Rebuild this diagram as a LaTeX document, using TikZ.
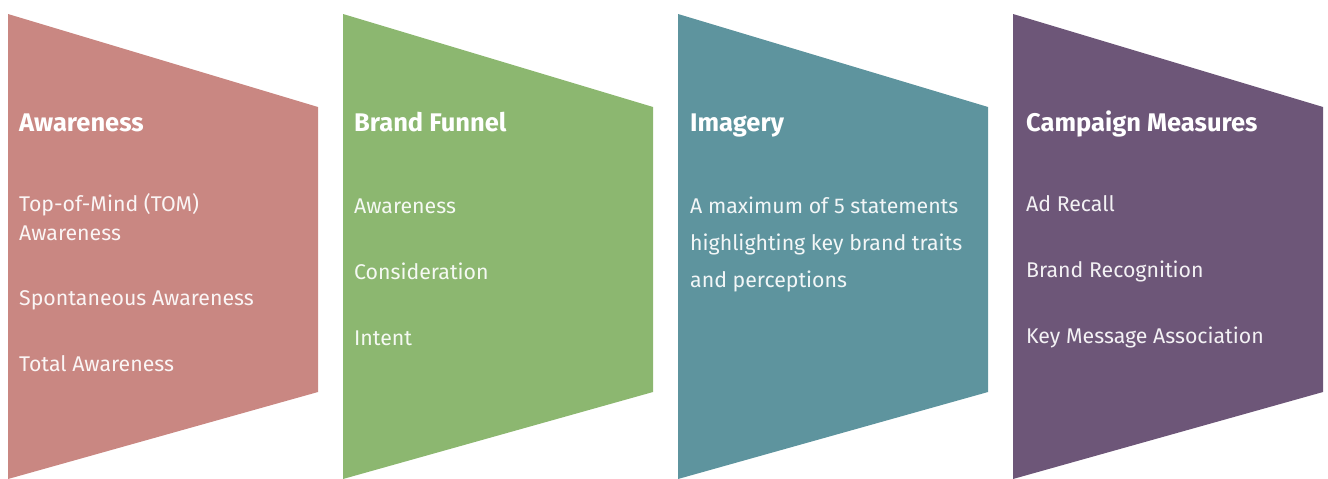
\documentclass[tikz,border=0pt]{standalone}
\usepackage{fontspec}
\setmainfont{Fira Sans}
\definecolor{cRed}{RGB}{201,135,130}
\definecolor{cGreen}{RGB}{140,183,112}
\definecolor{cTeal}{RGB}{94,148,158}
\definecolor{cPurple}{RGB}{109,86,120}
\tikzset{
  panel/.style={fill=#1, draw=none},
  head/.style={anchor=base west, inner sep=0pt, text=white, font=\fontsize{25.5}{30}\selectfont\bfseries},
  item/.style={anchor=base west, inner sep=0pt, text=white, text opacity=0.92, font=\fontsize{21.3}{26}\selectfont},
}
\begin{document}
\begin{tikzpicture}[x=1pt,y=-1pt]
\useasboundingbox (0,0) rectangle (1328,479);
% the four tapered panels
\foreach \L/\c/\n in {8/cRed/pA,343/cGreen/pB,678/cTeal/pC,1013/cPurple/pD}{
  \fill[panel=\c] (\L,14) -- (\L+310,107) -- (\L+310,392) -- (\L,479) -- cycle;
}
% Awareness
\node[head] (h1) at (19,131) {Awareness};
\node[item] (a1) at (19,211) {Top-of-Mind (TOM)};
\node[item] (a2) at (19,240) {Awareness};
\node[item] (a3) at (19,305) {Spontaneous Awareness};
\node[item] (a4) at (19,371) {Total Awareness};
% Brand Funnel
\node[head] (h2) at (354,131) {Brand Funnel};
\node[item] (b1) at (354,213) {Awareness};
\node[item] (b2) at (354,279) {Consideration};
\node[item] (b3) at (354,345) {Intent};
% Imagery
\node[head] (h3) at (690,131) {Imagery};
\node[item] (c1) at (690,213) {A maximum of 5 statements};
\node[item] (c2) at (690,250) {highlighting key brand traits};
\node[item] (c3) at (690,287) {and perceptions};
% Campaign Measures
\node[head] (h4) at (1026,131) {Campaign Measures};
\node[item] (d1) at (1026,211) {Ad Recall};
\node[item] (d2) at (1026,277) {Brand Recognition};
\node[item] (d3) at (1026,343) {Key Message Association};
\end{tikzpicture}
\end{document}
